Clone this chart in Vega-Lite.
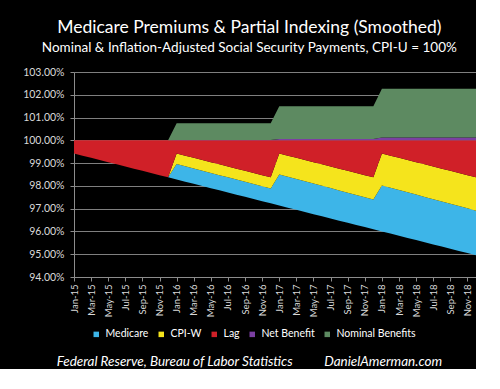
{
  "$schema": "https://vega.github.io/schema/vega-lite/v6.json",
  "background": "black",
  "padding": {"left": 22, "top": 19, "right": 0, "bottom": 0},
  "title": {
    "text": "Medicare Premiums & Partial Indexing (Smoothed)",
    "subtitle": "Nominal & Inflation-Adjusted Social Security Payments, CPI-U = 100%",
    "color": "white",
    "subtitleColor": "white",
    "font": "Lato",
    "subtitleFont": "Lato",
    "fontSize": 17.5,
    "subtitleFontSize": 13.5,
    "fontWeight": "normal",
    "subtitlePadding": 4,
    "offset": 13,
    "anchor": "middle"
  },
  "datasets": {
    "order": [
      {"series": "Base", "o": 0},
      {"series": "Medicare", "o": 1},
      {"series": "CPI-W", "o": 2},
      {"series": "Lag", "o": 3},
      {"series": "Net Benefit", "o": 4},
      {"series": "Nominal Benefits", "o": 5}
    ],
    "main": [
      {"month": "Jan-15", "Base": 99.420, "Medicare": 0, "CPI-W": 0, "Lag": 0.580, "Net Benefit": 0, "Nominal Benefits": 0},
      {"month": "Feb-15", "Base": 99.325, "Medicare": 0, "CPI-W": 0, "Lag": 0.675, "Net Benefit": 0, "Nominal Benefits": 0},
      {"month": "Mar-15", "Base": 99.230, "Medicare": 0, "CPI-W": 0, "Lag": 0.770, "Net Benefit": 0, "Nominal Benefits": 0},
      {"month": "Apr-15", "Base": 99.135, "Medicare": 0, "CPI-W": 0, "Lag": 0.865, "Net Benefit": 0, "Nominal Benefits": 0},
      {"month": "May-15", "Base": 99.040, "Medicare": 0, "CPI-W": 0, "Lag": 0.960, "Net Benefit": 0, "Nominal Benefits": 0},
      {"month": "Jun-15", "Base": 98.945, "Medicare": 0, "CPI-W": 0, "Lag": 1.055, "Net Benefit": 0, "Nominal Benefits": 0},
      {"month": "Jul-15", "Base": 98.850, "Medicare": 0, "CPI-W": 0, "Lag": 1.150, "Net Benefit": 0, "Nominal Benefits": 0},
      {"month": "Aug-15", "Base": 98.755, "Medicare": 0, "CPI-W": 0, "Lag": 1.245, "Net Benefit": 0, "Nominal Benefits": 0},
      {"month": "Sep-15", "Base": 98.660, "Medicare": 0, "CPI-W": 0, "Lag": 1.340, "Net Benefit": 0, "Nominal Benefits": 0},
      {"month": "Oct-15", "Base": 98.565, "Medicare": 0, "CPI-W": 0, "Lag": 1.435, "Net Benefit": 0, "Nominal Benefits": 0},
      {"month": "Nov-15", "Base": 98.470, "Medicare": 0, "CPI-W": 0, "Lag": 1.530, "Net Benefit": 0, "Nominal Benefits": 0},
      {"month": "Dec-15", "Base": 98.375, "Medicare": 0, "CPI-W": 0, "Lag": 1.625, "Net Benefit": 0, "Nominal Benefits": 0},
      {"month": "Jan-16", "Base": 98.280, "Medicare": 0.680, "CPI-W": 0.460, "Lag": 0.580, "Net Benefit": 0.02, "Nominal Benefits": 0.73},
      {"month": "Feb-16", "Base": 98.185, "Medicare": 0.677, "CPI-W": 0.463, "Lag": 0.675, "Net Benefit": 0.02, "Nominal Benefits": 0.73},
      {"month": "Mar-16", "Base": 98.090, "Medicare": 0.675, "CPI-W": 0.465, "Lag": 0.770, "Net Benefit": 0.02, "Nominal Benefits": 0.73},
      {"month": "Apr-16", "Base": 97.995, "Medicare": 0.672, "CPI-W": 0.468, "Lag": 0.865, "Net Benefit": 0.02, "Nominal Benefits": 0.73},
      {"month": "May-16", "Base": 97.900, "Medicare": 0.669, "CPI-W": 0.471, "Lag": 0.960, "Net Benefit": 0.02, "Nominal Benefits": 0.73},
      {"month": "Jun-16", "Base": 97.805, "Medicare": 0.667, "CPI-W": 0.473, "Lag": 1.055, "Net Benefit": 0.02, "Nominal Benefits": 0.73},
      {"month": "Jul-16", "Base": 97.710, "Medicare": 0.664, "CPI-W": 0.476, "Lag": 1.150, "Net Benefit": 0.02, "Nominal Benefits": 0.73},
      {"month": "Aug-16", "Base": 97.615, "Medicare": 0.661, "CPI-W": 0.479, "Lag": 1.245, "Net Benefit": 0.02, "Nominal Benefits": 0.73},
      {"month": "Sep-16", "Base": 97.520, "Medicare": 0.658, "CPI-W": 0.482, "Lag": 1.340, "Net Benefit": 0.02, "Nominal Benefits": 0.73},
      {"month": "Oct-16", "Base": 97.425, "Medicare": 0.656, "CPI-W": 0.484, "Lag": 1.435, "Net Benefit": 0.02, "Nominal Benefits": 0.73},
      {"month": "Nov-16", "Base": 97.330, "Medicare": 0.653, "CPI-W": 0.487, "Lag": 1.530, "Net Benefit": 0.02, "Nominal Benefits": 0.73},
      {"month": "Dec-16", "Base": 97.235, "Medicare": 0.650, "CPI-W": 0.490, "Lag": 1.625, "Net Benefit": 0.02, "Nominal Benefits": 0.73},
      {"month": "Jan-17", "Base": 97.140, "Medicare": 1.360, "CPI-W": 0.920, "Lag": 0.580, "Net Benefit": 0.06, "Nominal Benefits": 1.44},
      {"month": "Feb-17", "Base": 97.045, "Medicare": 1.355, "CPI-W": 0.925, "Lag": 0.675, "Net Benefit": 0.06, "Nominal Benefits": 1.44},
      {"month": "Mar-17", "Base": 96.950, "Medicare": 1.351, "CPI-W": 0.929, "Lag": 0.770, "Net Benefit": 0.06, "Nominal Benefits": 1.44},
      {"month": "Apr-17", "Base": 96.855, "Medicare": 1.346, "CPI-W": 0.934, "Lag": 0.865, "Net Benefit": 0.06, "Nominal Benefits": 1.44},
      {"month": "May-17", "Base": 96.760, "Medicare": 1.342, "CPI-W": 0.938, "Lag": 0.960, "Net Benefit": 0.06, "Nominal Benefits": 1.44},
      {"month": "Jun-17", "Base": 96.665, "Medicare": 1.337, "CPI-W": 0.943, "Lag": 1.055, "Net Benefit": 0.06, "Nominal Benefits": 1.44},
      {"month": "Jul-17", "Base": 96.570, "Medicare": 1.333, "CPI-W": 0.947, "Lag": 1.150, "Net Benefit": 0.06, "Nominal Benefits": 1.44},
      {"month": "Aug-17", "Base": 96.475, "Medicare": 1.328, "CPI-W": 0.952, "Lag": 1.245, "Net Benefit": 0.06, "Nominal Benefits": 1.44},
      {"month": "Sep-17", "Base": 96.380, "Medicare": 1.324, "CPI-W": 0.956, "Lag": 1.340, "Net Benefit": 0.06, "Nominal Benefits": 1.44},
      {"month": "Oct-17", "Base": 96.285, "Medicare": 1.319, "CPI-W": 0.961, "Lag": 1.435, "Net Benefit": 0.06, "Nominal Benefits": 1.44},
      {"month": "Nov-17", "Base": 96.190, "Medicare": 1.315, "CPI-W": 0.965, "Lag": 1.530, "Net Benefit": 0.06, "Nominal Benefits": 1.44},
      {"month": "Dec-17", "Base": 96.095, "Medicare": 1.310, "CPI-W": 0.970, "Lag": 1.625, "Net Benefit": 0.06, "Nominal Benefits": 1.44},
      {"month": "Jan-18", "Base": 96.000, "Medicare": 2.020, "CPI-W": 1.400, "Lag": 0.580, "Net Benefit": 0.12, "Nominal Benefits": 2.15},
      {"month": "Feb-18", "Base": 95.905, "Medicare": 2.014, "CPI-W": 1.406, "Lag": 0.675, "Net Benefit": 0.12, "Nominal Benefits": 2.15},
      {"month": "Mar-18", "Base": 95.810, "Medicare": 2.009, "CPI-W": 1.411, "Lag": 0.770, "Net Benefit": 0.12, "Nominal Benefits": 2.15},
      {"month": "Apr-18", "Base": 95.715, "Medicare": 2.003, "CPI-W": 1.417, "Lag": 0.865, "Net Benefit": 0.12, "Nominal Benefits": 2.15},
      {"month": "May-18", "Base": 95.620, "Medicare": 1.998, "CPI-W": 1.422, "Lag": 0.960, "Net Benefit": 0.12, "Nominal Benefits": 2.15},
      {"month": "Jun-18", "Base": 95.525, "Medicare": 1.992, "CPI-W": 1.428, "Lag": 1.055, "Net Benefit": 0.12, "Nominal Benefits": 2.15},
      {"month": "Jul-18", "Base": 95.430, "Medicare": 1.987, "CPI-W": 1.433, "Lag": 1.150, "Net Benefit": 0.12, "Nominal Benefits": 2.15},
      {"month": "Aug-18", "Base": 95.335, "Medicare": 1.981, "CPI-W": 1.439, "Lag": 1.245, "Net Benefit": 0.12, "Nominal Benefits": 2.15},
      {"month": "Sep-18", "Base": 95.240, "Medicare": 1.976, "CPI-W": 1.444, "Lag": 1.340, "Net Benefit": 0.12, "Nominal Benefits": 2.15},
      {"month": "Oct-18", "Base": 95.145, "Medicare": 1.970, "CPI-W": 1.450, "Lag": 1.435, "Net Benefit": 0.12, "Nominal Benefits": 2.15},
      {"month": "Nov-18", "Base": 95.050, "Medicare": 1.965, "CPI-W": 1.455, "Lag": 1.530, "Net Benefit": 0.12, "Nominal Benefits": 2.15},
      {"month": "Dec-18", "Base": 94.955, "Medicare": 1.959, "CPI-W": 1.461, "Lag": 1.625, "Net Benefit": 0.12, "Nominal Benefits": 2.15}
    ]
  },
  "vconcat": [
    {
      "title": {
        "text": "Federal Reserve, Bureau of Labor Statistics\u00a0\u00a0\u00a0\u00a0\u00a0\u00a0\u00a0\u00a0\u00a0\u00a0DanielAmerman.com",
        "orient": "bottom",
        "anchor": "middle",
        "color": "white",
        "font": "Lato",
        "fontSize": 13.5,
        "fontStyle": "italic",
        "fontWeight": "normal",
        "offset": 38
      },
      "vconcat": [
        {
          "width": 402,
          "height": 205,
          "data": {"name": "main"},
          "transform": [
            {"fold": ["Base", "Medicare", "CPI-W", "Lag", "Net Benefit", "Nominal Benefits"], "as": ["series", "value"]},
            {"lookup": "series", "from": {"data": {"name": "order"}, "key": "series", "fields": ["o"]}}
          ],
          "mark": {"type": "area", "clip": true, "interpolate": "linear"},
          "encoding": {
            "x": {
              "field": "month",
              "type": "ordinal",
              "sort": null,
              "scale": {"type": "point", "padding": 0},
              "axis": {
                "title": null,
                "values": ["Jan-15","Mar-15","May-15","Jul-15","Sep-15","Nov-15","Jan-16","Mar-16","May-16","Jul-16","Sep-16","Nov-16","Jan-17","Mar-17","May-17","Jul-17","Sep-17","Nov-17","Jan-18","Mar-18","May-18","Jul-18","Sep-18","Nov-18"],
                "labelAngle": -90,
                "labelAlign": "right",
                "labelBaseline": "middle",
                "labelFont": "Lato",
                "labelFontSize": 9.5,
                "labelColor": "#d9d9d9",
                "labelPadding": 3,
                "domainColor": "#8c8c8c",
                "tickColor": "#8c8c8c",
                "tickSize": 4,
                "grid": false
              }
            },
            "y": {
              "field": "value",
              "type": "quantitative",
              "stack": "zero",
              "scale": {"domain": [94, 103], "zero": false, "nice": false},
              "axis": {
                "title": null,
                "values": [94, 95, 96, 97, 98, 99, 100, 101, 102, 103],
                "labelExpr": "format(datum.value, '.2f') + '%'",
                "labelFont": "Lato",
                "labelFontSize": 10.5,
                "labelColor": "#d9d9d9",
                "labelPadding": 6,
                "domainColor": "#8c8c8c",
                "tickColor": "#8c8c8c",
                "tickSize": 4,
                "grid": true,
                "gridColor": "#7f7f7f",
                "gridWidth": 1
              }
            },
            "color": {
              "field": "series",
              "type": "nominal",
              "scale": {
                "domain": ["Base", "Medicare", "CPI-W", "Lag", "Net Benefit", "Nominal Benefits"],
                "range": ["transparent", "#3db5e8", "#f5e41c", "#d02028", "#7b3fa2", "#5d8a61"]
              },
              "legend": {
                "title": null,
                "orient": "none",
                "legendX": 17,
                "legendY": 257,
                "direction": "horizontal",
                "values": ["Medicare", "CPI-W", "Lag", "Net Benefit", "Nominal Benefits"],
                "symbolType": "square",
                "symbolSize": 30,
                "symbolStrokeWidth": 0,
                "labelFont": "Lato",
                "labelFontSize": 10.5,
                "labelColor": "white",
                "labelOffset": 4,
                "columnPadding": 7
              }
            },
            "order": {"field": "o", "type": "quantitative"}
          }
        }
      ]
    }
  ],
  "config": {
    "view": {"stroke": null, "fill": "black"},
    "concat": {"spacing": 0}
  }
}
